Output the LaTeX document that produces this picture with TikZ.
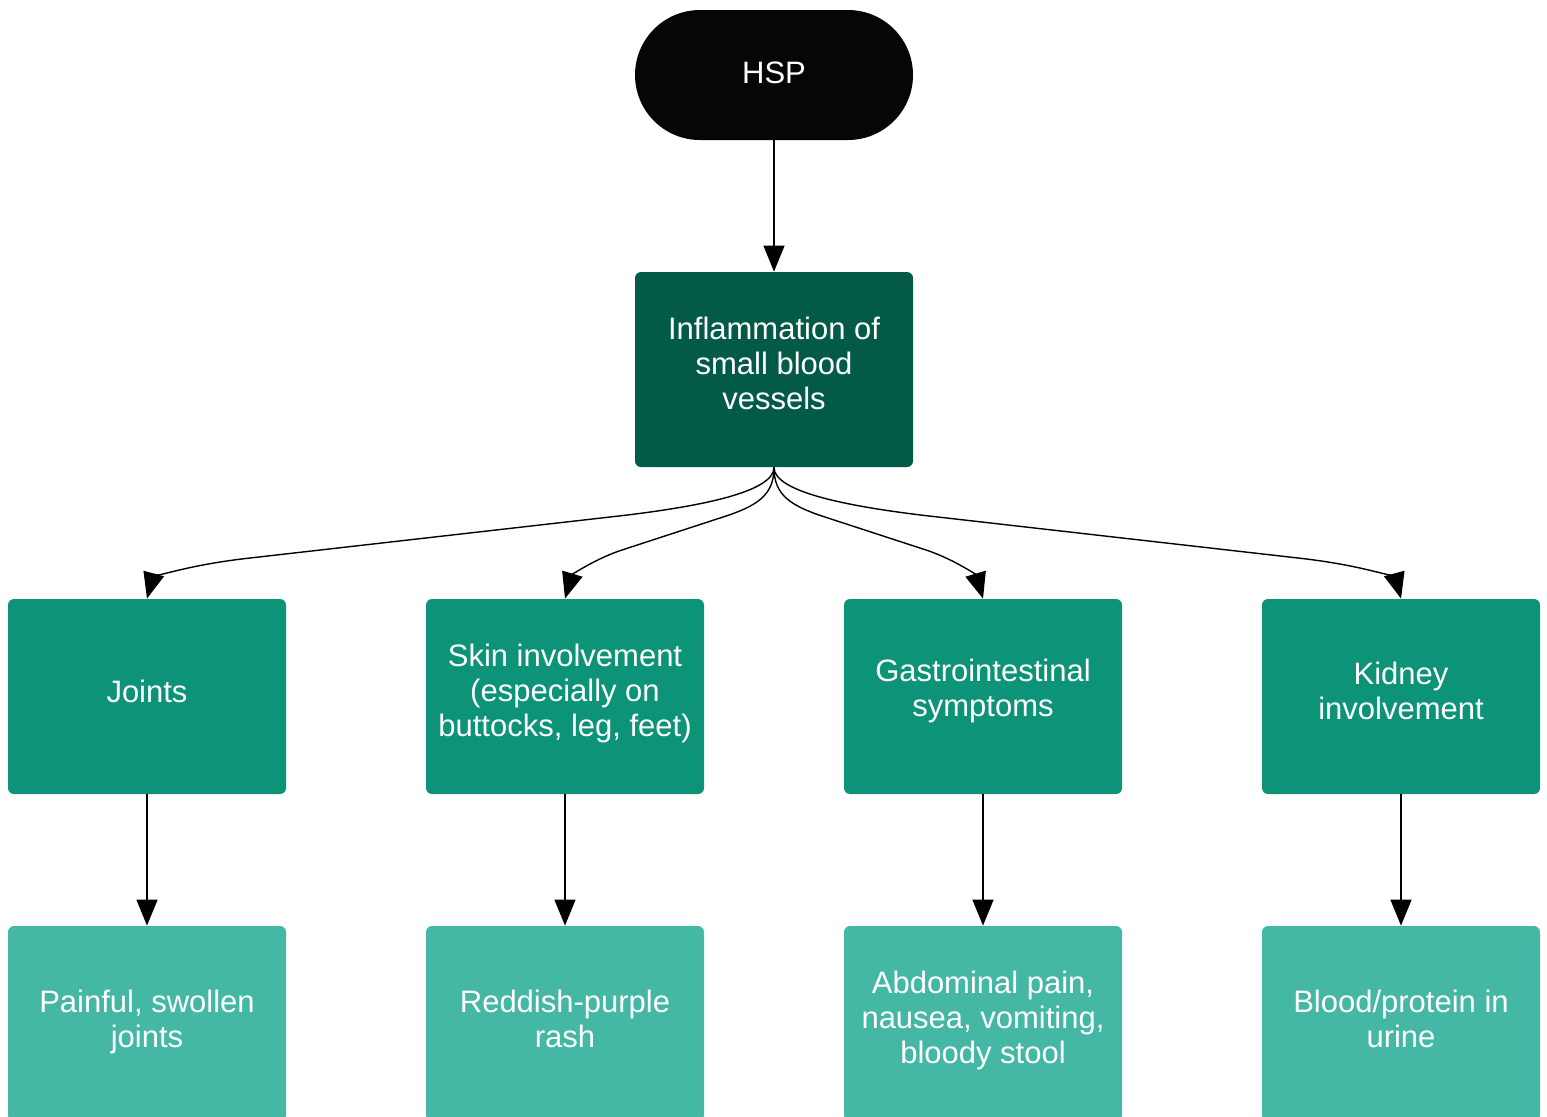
\documentclass[tikz,border=0pt]{standalone}
\usepackage{fontspec}
\setmainfont{Liberation Sans}
\usetikzlibrary{arrows.meta}
\definecolor{hspblack}{HTML}{060606}
\definecolor{darkgreen}{HTML}{035B47}
\definecolor{midgreen}{HTML}{0D9377}
\definecolor{lightgreen}{HTML}{44B8A4}
\tikzset{
  box/.style={rectangle, rounded corners=3pt, minimum width=139pt, minimum height=97.5pt,
    inner sep=0pt},
  dbox/.style={box, fill=darkgreen},
  mbox/.style={box, fill=midgreen},
  lbox/.style={box, fill=lightgreen},
  txt/.style={text=white, align=center, inner sep=0pt, font=\fontsize{15.5}{17.5}\selectfont},
  arr/.style={line width=0.7pt, draw=black, -{Triangle[length=13pt,width=10.5pt]}},
}
\begin{document}
\begin{tikzpicture}[x=0.5pt,y=-0.5pt]
\useasboundingbox (0,0) rectangle (1547,1116);
\begin{scope}
\clip (0,0) rectangle (1547,1116);
\node[box, fill=hspblack, minimum height=65pt, rounded corners=32.5pt] (hsp) at (774,75) {};
\node[dbox] (inf) at (774,369.5) {};
\node[mbox] (joints) at (147,696.5) {};
\node[mbox] (skin) at (565,696.5) {};
\node[mbox] (gi) at (983,696.5) {};
\node[mbox] (kid) at (1401,696.5) {};
\node[lbox] (pain) at (147,1023.5) {};
\node[lbox] (rash) at (565,1023.5) {};
\node[lbox] (abd) at (983,1023.5) {};
\node[lbox] (blood) at (1401,1023.5) {};
\end{scope}
\node[txt] (hsp-t) at (774,73) {HSP};
\node[txt] (inf-t) at (774,363) {Inflammation of\\small blood\\vessels};
\node[txt] (joints-t) at (147,691) {Joints};
\node[txt] (skin-t) at (565,693) {Skin involvement\\(especially on\\buttocks, leg, feet)};
\node[txt] (gi-t) at (983,690.5) {Gastrointestinal\\symptoms};
\node[txt] (kid-t) at (1401,690.5) {Kidney\\involvement};
\node[txt] (pain-t) at (147,1021.5) {Painful, swollen\\joints};
\node[txt] (rash-t) at (565,1018.5) {Reddish-purple\\rash};
\node[txt] (abd-t) at (983,1020.5) {Abdominal pain,\\nausea, vomiting,\\bloody stool};
\node[txt] (blood-t) at (1401,1018.5) {Blood/protein in\\urine};
\draw[arr] (hsp.south) -- (inf.north);
\draw[arr] (joints.south) -- (pain.north);
\draw[arr] (skin.south) -- (rash.north);
\draw[arr] (gi.south) -- (abd.north);
\draw[arr] (kid.south) -- (blood.north);
\draw[arr] (inf.south) .. controls (774,492) and (700,507) .. (610,517) -- (250,558) .. controls (178,566) and (152,580) .. (joints.north);
\draw[arr] (inf.south) .. controls (774,495) and (758,506) .. (720,518) -- (625,549) .. controls (596,558) and (572,575) .. (skin.north);
\draw[arr] (inf.south) .. controls (774,495) and (790,506) .. (828,518) -- (923,549) .. controls (952,558) and (976,575) .. (gi.north);
\draw[arr] (inf.south) .. controls (774,492) and (848,507) .. (938,517) -- (1298,558) .. controls (1370,566) and (1396,580) .. (kid.north);
\end{tikzpicture}
\end{document}
